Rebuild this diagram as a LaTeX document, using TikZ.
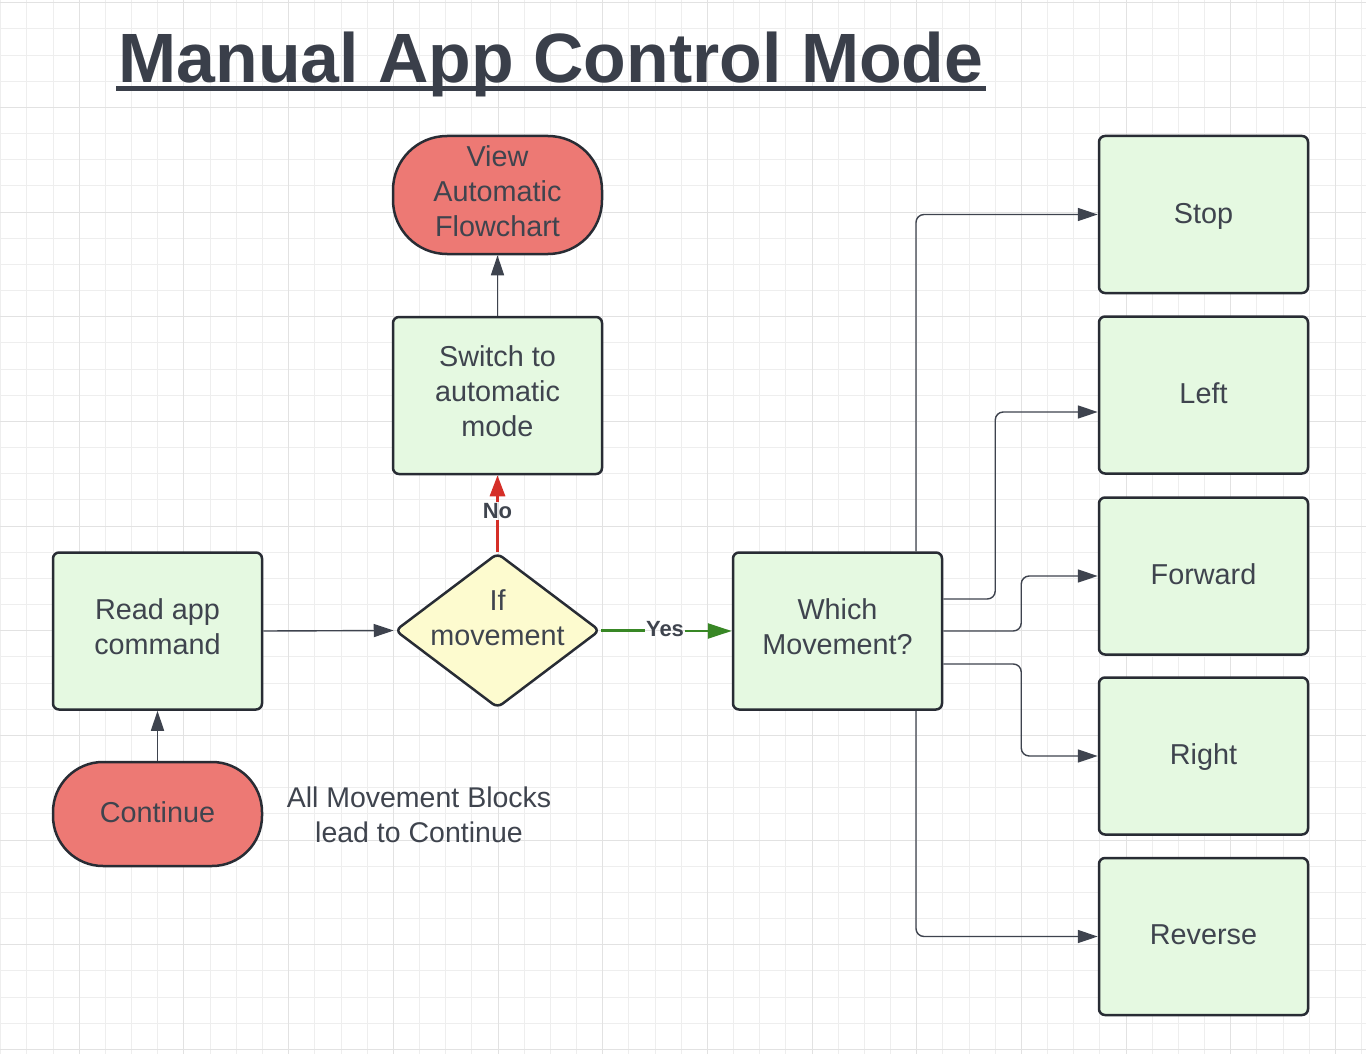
\documentclass[tikz,border=0pt]{standalone}
\usepackage{fontspec}
\setmainfont{Liberation Sans}
\usetikzlibrary{arrows.meta,shapes.geometric}
\definecolor{salmon}{RGB}{237,121,116}
\definecolor{boxgreen}{RGB}{229,249,225}
\definecolor{dyellow}{RGB}{253,251,207}
\definecolor{bordercol}{RGB}{40,44,52}
\definecolor{conncol}{RGB}{62,67,78}
\definecolor{txtcol}{RGB}{63,68,78}
\definecolor{titlecol}{RGB}{58,63,74}
\definecolor{nored}{RGB}{213,47,40}
\definecolor{yesgreen}{RGB}{56,135,37}
\definecolor{gridminor}{RGB}{238,238,238}
\definecolor{gridmajor}{RGB}{226,226,226}
\begin{document}
\begin{tikzpicture}[x=1pt,y=-1pt,
  boxbase/.style={draw=bordercol, line width=2.5pt, text=txtcol, align=center,
    font=\fontsize{28.8}{35}\selectfont, inner sep=0pt, text depth=8pt},
  singleline/.style={text depth=3pt},
  procbox/.style={boxbase, rectangle, rounded corners=6pt, fill=boxgreen,
    minimum width=209pt, minimum height=157pt},
  termbox/.style={boxbase, rectangle, fill=salmon, minimum width=209pt},
  decbox/.style={boxbase, diamond, rounded corners=6pt, fill=dyellow,
    minimum width=205pt, minimum height=155pt, aspect=1.33},
  conn/.style={draw=conncol, line width=1.4pt, rounded corners=8pt,
    -{Triangle[length=20pt,width=13pt]}},
  edgelabel/.style={font=\fontsize{22}{26}\selectfont\bfseries, text=txtcol, inner sep=1pt},
  gmin/.style={draw=gridminor, line width=1pt},
  gmaj/.style={draw=gridmajor, line width=1pt}
]
\useasboundingbox (0,0) rectangle (1366,1054);
\fill[white] (0,0) rectangle (1366,1054);
% grid
\foreach \i in {0,...,52} \draw[gmin] ({0.8+\i*26.17},0) -- ({0.8+\i*26.17},1054);
\foreach \j in {0,...,40} \draw[gmin] (0,{2.7+\j*26.17}) -- (1366,{2.7+\j*26.17});
\foreach \i in {0,...,12} \draw[gmaj] ({79.31+\i*104.68},0) -- ({79.31+\i*104.68},1054);
\foreach \j in {0,...,10} \draw[gmaj] (0,{2.7+\j*104.68}) -- (1366,{2.7+\j*104.68});

% title
\node[anchor=base west, inner sep=0pt, text=titlecol,
  font=\fontsize{69.8}{84}\selectfont\bfseries] (title) at (118.5,83) {Manual App Control Mode};
\draw[titlecol, line width=5pt] ([yshift=-5.5pt,xshift=-2.5pt]title.base west) -- ([yshift=-5.5pt,xshift=2pt]title.base east);

% nodes
\node[termbox, rounded corners=54pt, minimum height=118pt] (view) at (497.5,195) {View\\Automatic\\Flowchart};
\node[procbox] (switch) at (497.5,395.5) {Switch to\\automatic\\mode};
\node[decbox, label={[text=txtcol, align=center, font=\fontsize{28.8}{35}\selectfont, yshift=13pt]center:If\\movement}] (dec) at (497.5,630.5) {};
\node[procbox] (read) at (157.5,631) {Read app\\command};
\node[termbox, singleline, rounded corners=50pt, minimum height=104pt] (cont) at (157.5,814) {Continue};
\node[procbox] (which) at (837.5,631) {Which\\Movement?};
\node[procbox, singleline] (stop) at (1203.5,214.5) {Stop};
\node[procbox, singleline] (left) at (1203.5,395) {Left};
\node[procbox, singleline] (fwd) at (1203.5,576) {Forward};
\node[procbox, singleline] (right) at (1203.5,756) {Right};
\node[procbox, singleline] (rev) at (1203.5,936.5) {Reverse};

\node[text=txtcol, align=center, font=\fontsize{28.5}{35}\selectfont, inner sep=0pt] (note) at (419,815) {All Movement Blocks\\lead to Continue};

% connectors
\draw[conn] (switch.north) -- (view.south);
\draw[conn] (read.east) -- (dec.west);
\draw[conn] (cont.north) -- (read.south);

\node[edgelabel] (no) at (497.5,511) {No};
\draw[draw=nored, line width=3pt] (dec.north) -- (no.south);
\draw[draw=nored, fill=nored, line width=3pt, -{Triangle[length=21pt,width=15pt]}] (no.north) -- (switch.south);

\node[edgelabel] (yes) at (665,629) {Yes};
\draw[draw=yesgreen, line width=2.4pt] (dec.east) -- (yes.west |- dec.east);
\draw[draw=yesgreen, line width=2.4pt, -{Triangle[length=24pt,width=15pt]}] (yes.east |- which.west) -- (which.west);

\draw[conn] ([xshift=78.5pt]which.north) |- (stop.west);
\draw[conn] ([yshift=32pt]which.east) -- ++(52,0) |- ([yshift=-17pt]left.west);
\draw[conn] (which.east) -- ++(78,0) |- (fwd.west);
\draw[conn] ([yshift=-33pt]which.east) -- ++(78,0) |- (right.west);
\draw[conn] ([xshift=78.5pt]which.south) |- (rev.west);
\end{tikzpicture}
\end{document}
